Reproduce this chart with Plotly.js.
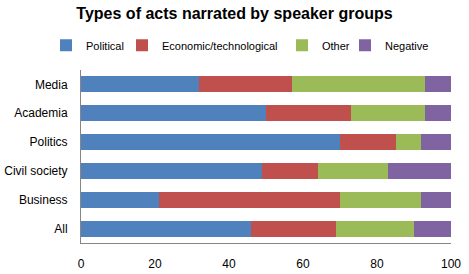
<!DOCTYPE html>
<html>
<head>
<meta charset="utf-8">
<script src="https://cdn.plot.ly/plotly-3.0.1.min.js"></script>
<style>html,body{margin:0;padding:0;background:#fff;}#chart{width:469px;height:274px;}</style>
</head>
<body>
<div id="chart"></div>
<script>
const categories = ["All", "Business", "Civil society", "Politics", "Academia", "Media"];
const political = [46, 21, 49, 70, 50, 32];
const economic = [23, 49, 15, 15, 23, 25];
const other = [21, 22, 19, 7, 20, 36];
const negative = [10, 8, 17, 8, 7, 7];
const seriesNames = ["Political", "Economic/technological", "Other", "Negative"];
const colors = ["#4F81BD", "#C0504D", "#9BBB59", "#8064A2"];
const values = [political, economic, other, negative];
const legendIds = ["legend", "legend2", "legend3", "legend4"];
const legendLeft = [46, 122, 282, 345];

const traces = values.map((v, i) => ({
  type: "bar",
  orientation: "h",
  x: v,
  y: categories,
  name: seriesNames[i],
  legend: legendIds[i],
  marker: {color: colors[i], line: {width: 0}},
  hoverinfo: "x+y+name"
}));

const layout = {
  width: 469, height: 274,
  barmode: "stack",
  bargap: 0.44,
  margin: {l: 81, r: 18, t: 70, b: 31},
  paper_bgcolor: "#fff", plot_bgcolor: "#fff",
  font: {family: "Liberation Sans, Arial, sans-serif", size: 11, color: "#000"},
  title: {text: "<b>Types of acts narrated by speaker groups</b>", x: 0.5, xanchor: "center", y: 0.952, yanchor: "middle",
          font: {family: "Liberation Sans, Arial, sans-serif", size: 16, color: "#000"}},
  showlegend: true,
  xaxis: {range: [0, 100], dtick: 20, showgrid: false, zeroline: false, showline: true, linecolor: "#868686", linewidth: 1,
          ticks: "", tickfont: {size: 12}, ticklabelstandoff: 10, fixedrange: true},
  yaxis: {showgrid: false, zeroline: false, showline: true, linecolor: "#868686", linewidth: 1, ticks: "",
          tickfont: {size: 12}, ticklabelstandoff: 10, fixedrange: true, automargin: false}
};

legendIds.forEach((id, i) => {
  layout[id] = {orientation: "h", xref: "container", yref: "container", x: legendLeft[i] / 469, xanchor: "left",
                y: 0.835, yanchor: "middle", font: {size: 11}, itemwidth: 30, bgcolor: "rgba(0,0,0,0)"};
});

Plotly.newPlot("chart", traces, layout, {displayModeBar: false, staticPlot: true});
</script>
</body>
</html>
